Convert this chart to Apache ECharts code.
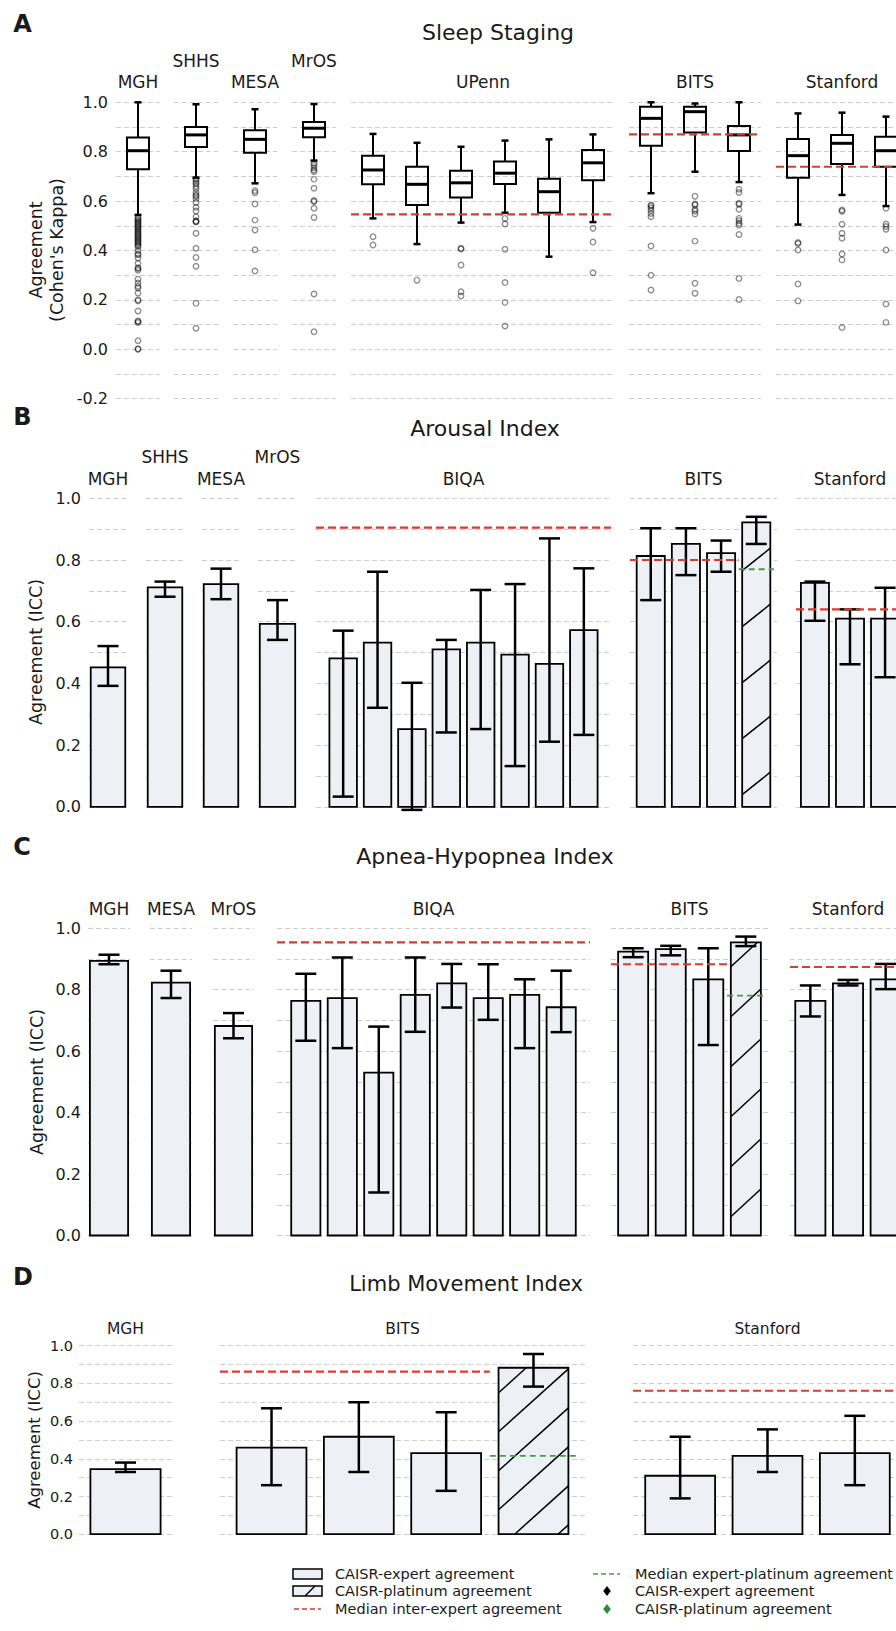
<!DOCTYPE html>
<html>
<head>
<meta charset="utf-8">
<script src="https://cdn.jsdelivr.net/npm/echarts@6/dist/echarts.min.js"></script>
<style>
html,body{margin:0;padding:0;overflow:hidden;background:#ffffff;}
#chart{width:1000px;height:1631px;}
</style>
</head>
<body>
<div id="chart"></div>
<script>
// ======================= DATA =======================
// ---- Panel A: Sleep Staging, Cohen's kappa boxplots ----
// each box: [lower whisker, Q1, median, Q3, upper whisker]
const sleepCohorts = ['MGH', 'SHHS', 'MESA', 'MrOS', 'UPenn', 'BITS', 'Stanford'];
const sleepBoxMGH = [[0.544, 0.729, 0.804, 0.857, 1.000]];
const sleepBoxSHHS = [[0.695, 0.819, 0.868, 0.900, 0.992]];
const sleepBoxMESA = [[0.672, 0.796, 0.850, 0.887, 0.972]];
const sleepBoxMrOS = [[0.764, 0.858, 0.895, 0.920, 0.993]];
const sleepBoxUPenn = [
  [0.530, 0.668, 0.726, 0.784, 0.872],
  [0.426, 0.584, 0.668, 0.739, 0.836],
  [0.513, 0.615, 0.674, 0.723, 0.820],
  [0.553, 0.669, 0.713, 0.760, 0.845],
  [0.375, 0.553, 0.638, 0.690, 0.850],
  [0.515, 0.684, 0.755, 0.807, 0.870]
];
const sleepBoxBITS = [
  [0.632, 0.824, 0.935, 0.982, 1.000],
  [0.719, 0.878, 0.962, 0.982, 0.995],
  [0.677, 0.803, 0.868, 0.904, 1.000]
];
const sleepBoxStanford = [
  [0.505, 0.695, 0.784, 0.851, 0.955],
  [0.625, 0.750, 0.834, 0.868, 0.958],
  [0.580, 0.739, 0.804, 0.861, 0.942]
];
// outliers, one list per box
const sleepOutMGH = [[0.535, 0.530, 0.525, 0.520, 0.515, 0.510, 0.505, 0.500, 0.495, 0.490, 0.485, 0.480,
  0.475, 0.470, 0.465, 0.460, 0.455, 0.450, 0.445, 0.440, 0.435, 0.430, 0.425, 0.420, 0.415, 0.400,
  0.386, 0.383, 0.370, 0.348, 0.330, 0.327, 0.320, 0.284, 0.268, 0.255, 0.248, 0.228, 0.200, 0.197,
  0.155, 0.115, 0.112, 0.108, 0.035, 0.002, 0.000]];
const sleepOutSHHS = [[0.690, 0.685, 0.675, 0.670, 0.660, 0.650, 0.635, 0.625, 0.620, 0.610, 0.594, 0.575,
  0.560, 0.537, 0.520, 0.517, 0.515, 0.470, 0.409, 0.372, 0.336, 0.186, 0.085]];
const sleepOutMESA = [[0.642, 0.634, 0.588, 0.523, 0.483, 0.403, 0.317]];
const sleepOutMrOS = [[0.753, 0.745, 0.735, 0.726, 0.720, 0.688, 0.652, 0.602, 0.598, 0.571, 0.534, 0.224, 0.071]];
const sleepOutUPenn = [
  [0.456, 0.422],
  [0.280],
  [0.409, 0.406, 0.341, 0.233, 0.216],
  [0.530, 0.507, 0.405, 0.270, 0.190, 0.094],
  [],
  [0.490, 0.434, 0.310]
];
const sleepOutBITS = [
  [0.584, 0.580, 0.572, 0.562, 0.550, 0.537, 0.418, 0.300, 0.240],
  [0.620, 0.588, 0.584, 0.567, 0.560, 0.548, 0.438, 0.267, 0.227],
  [0.648, 0.635, 0.591, 0.587, 0.567, 0.530, 0.520, 0.510, 0.503, 0.465, 0.287, 0.202]
];
const sleepOutStanford = [
  [0.432, 0.428, 0.402, 0.264, 0.196],
  [0.564, 0.559, 0.506, 0.470, 0.450, 0.386, 0.362, 0.088],
  [0.571, 0.507, 0.497, 0.486, 0.402, 0.183, 0.109]
];
const sleepInterExpert = { UPenn: 0.546, BITS: 0.870, Stanford: 0.739 };

// ---- Panel B: Arousal Index, ICC bars with 95% CI ----
const arousalCohorts = ['MGH', 'SHHS', 'MESA', 'MrOS', 'BIQA', 'BITS', 'Stanford'];
const arousalMGH = [0.452];           const arousalMGHCI = [[0.392, 0.521]];
const arousalSHHS = [0.711];          const arousalSHHSCI = [[0.681, 0.730]];
const arousalMESA = [0.722];          const arousalMESACI = [[0.673, 0.772]];
const arousalMrOS = [0.593];          const arousalMrOSCI = [[0.541, 0.670]];
const arousalBIQA = [0.481, 0.532, 0.252, 0.510, 0.532, 0.493, 0.463, 0.573];
const arousalBIQACI = [[0.033, 0.571], [0.321, 0.762], [-0.010, 0.402], [0.241, 0.541],
                       [0.252, 0.703], [0.132, 0.722], [0.211, 0.870], [0.233, 0.773]];
const arousalBITS = [0.813, 0.852, 0.822, 0.922];
const arousalBITSCI = [[0.670, 0.903], [0.751, 0.903], [0.762, 0.863], [0.852, 0.940]];
const arousalStanford = [0.726, 0.610, 0.610];
const arousalStanfordCI = [[0.603, 0.730], [0.462, 0.640], [0.420, 0.710]];
const arousalInterExpert = { BIQA: 0.905, BITS: 0.800, Stanford: 0.640 };
const arousalExpertPlatinum = { BITS: 0.770 };

// ---- Panel C: Apnea-Hypopnea Index ----
const ahiCohorts = ['MGH', 'MESA', 'MrOS', 'BIQA', 'BITS', 'Stanford'];
const ahiMGH = [0.894];               const ahiMGHCI = [[0.883, 0.914]];
const ahiMESA = [0.823];              const ahiMESACI = [[0.773, 0.862]];
const ahiMrOS = [0.682];              const ahiMrOSCI = [[0.642, 0.724]];
const ahiBIQA = [0.764, 0.773, 0.530, 0.783, 0.821, 0.773, 0.783, 0.743];
const ahiBIQACI = [[0.634, 0.852], [0.610, 0.905], [0.140, 0.680], [0.663, 0.905],
                   [0.742, 0.884], [0.702, 0.883], [0.610, 0.834], [0.662, 0.862]];
const ahiBITS = [0.924, 0.932, 0.834, 0.954];
const ahiBITSCI = [[0.906, 0.935], [0.912, 0.943], [0.620, 0.935], [0.942, 0.973]];
const ahiStanford = [0.764, 0.821, 0.834];
const ahiStanfordCI = [[0.713, 0.814], [0.814, 0.832], [0.802, 0.884]];
const ahiInterExpert = { BIQA: 0.954, BITS: 0.883, Stanford: 0.874 };
const ahiExpertPlatinum = { BITS: 0.781 };

// ---- Panel D: Limb Movement Index ----
const limbCohorts = ['MGH', 'BITS', 'Stanford'];
const limbMGH = [0.345];              const limbMGHCI = [[0.330, 0.380]];
const limbBITS = [0.459, 0.517, 0.430, 0.883];
const limbBITSCI = [[0.260, 0.668], [0.330, 0.700], [0.230, 0.647], [0.783, 0.956]];
const limbStanford = [0.310, 0.415, 0.430];
const limbStanfordCI = [[0.190, 0.517], [0.330, 0.556], [0.260, 0.628]];
const limbInterExpert = { BITS: 0.862, Stanford: 0.761 };
const limbExpertPlatinum = { BITS: 0.415 };

// which bar in a cohort is the CAISR-platinum comparison
const platinumIndex = { BITS: 3 };

// texts
const panelTitles = ['Sleep Staging', 'Arousal Index', 'Apnea-Hypopnea Index', 'Limb Movement Index'];
const panelLetters = ['A', 'B', 'C', 'D'];
const yTitles = ['Agreement\n(Cohen\'s Kappa)', 'Agreement (ICC)', 'Agreement (ICC)', 'Agreement (ICC)'];
const legendLeftTexts = ['CAISR-expert agreement', 'CAISR-platinum agreement', 'Median inter-expert agreement'];
const legendRightTexts = ['Median expert-platinum agreement', 'CAISR-expert agreement', 'CAISR-platinum agreement'];

// ======================= STYLE / LAYOUT =======================
const FONT = 'DejaVu Sans';
const INK = '#1a1a1a';
const RED = '#de3a2f';
const GREEN = '#4a9a48';
const BAR_FILL = '#edf1f6';
const GRID_COLOR = '#cdcdcd';

const PA = { top: 102.3, bottom: 398.7, ymin: -0.2, ymax: 1.0, tick: 16, margin: 8, label: 17 };
const PB = { top: 498.3, bottom: 806.8, ymin: 0, ymax: 1.0, tick: 16, margin: 8, label: 17 };
const PC = { top: 928.3, bottom: 1235.5, ymin: 0, ymax: 1.0, tick: 16, margin: 7, label: 17 };
const PD = { top: 1345.7, bottom: 1534.2, ymin: 0, ymax: 1.0, tick: 14.5, margin: 6, label: 15.5 };

const xA = [[116, 160], [174, 218], [233, 277], [292, 336], [351, 615], [629, 761], [776, 908]];
const lyA = [82, 61, 82, 61, 82, 82, 82];
const xB = [[89, 127], [146, 184], [202, 240], [258, 297], [316, 611], [630, 777], [796, 904]];
const lyB = [479, 457, 479, 457, 479, 479, 479];
const xC = [[88, 130], [150, 192], [213, 254], [277, 590], [611, 768], [790, 906]];
const lyC = [909, 909, 909, 909, 909, 909];
const xD = [[79, 172], [220, 585], [633, 902]];
const lyD = [1328.5, 1328.5, 1328.5];

const hatchB = { spacing: 56, slope: 0.8, phase: 570.7 };
const hatchC = { spacing: 50, slope: 0.92, phase: 1016.7 };
const hatchD = { spacing: 39, slope: 0.9, phase: 1431.7 };

// ======================= BUILD =======================
const grids = [], xAxes = [], yAxes = [], series = [], graphics = [];

function txt(text, x, y, size, o) {
  o = o || {};
  const el = {
    type: 'text', x: x, y: y, silent: true, z: 100,
    style: {
      text: text, fill: INK, fontSize: size, fontFamily: FONT,
      fontWeight: o.bold ? 'bold' : 'normal',
      align: o.align || 'center', textAlign: o.align || 'center',
      verticalAlign: 'middle', textVerticalAlign: 'middle'
    }
  };
  if (o.lh) el.style.lineHeight = o.lh;
  if (o.rot) el.rotation = o.rot;
  return el;
}

function addAxes(P, x0, x1, xmin, xmax, showLabels) {
  const idx = grids.length;
  grids.push({ left: x0, top: P.top, width: x1 - x0, height: P.bottom - P.top, containLabel: false });
  xAxes.push({ type: 'value', gridIndex: idx, min: xmin, max: xmax, show: false });
  yAxes.push({
    type: 'value', gridIndex: idx, min: P.ymin, max: P.ymax, interval: 0.1,
    axisLine: { show: false }, axisTick: { show: false },
    axisLabel: {
      show: showLabels, margin: P.margin, fontFamily: FONT, fontSize: P.tick, color: INK,
      formatter: function (v) { const t = Math.round(v * 10); return (t % 2 === 0) ? (t / 10).toFixed(1) : ''; }
    },
    splitLine: { show: true, lineStyle: { color: GRID_COLOR, type: [5, 3], width: 1 } }
  });
  return idx;
}

function refLine(gi, a, b, v, color, width, dash) {
  return {
    type: 'line', xAxisIndex: gi, yAxisIndex: gi, data: [[a, v], [b, v]],
    symbol: 'none', showSymbol: false, silent: true, z: 6, animation: false,
    lineStyle: { color: color, width: width, type: dash }
  };
}

function boxRender(params, api) {
  const x = api.value(0);
  const pLo = api.coord([x, api.value(1)]);
  const pQ1 = api.coord([x, api.value(2)]);
  const pMed = api.coord([x, api.value(3)]);
  const pQ3 = api.coord([x, api.value(4)]);
  const pHi = api.coord([x, api.value(5)]);
  const w = api.size([0.5, 0])[0];
  const cx = pQ1[0];
  const ls = { stroke: '#000', lineWidth: 2 };
  const cs = { stroke: '#000', lineWidth: 2.5 };
  return {
    type: 'group', children: [
      { type: 'line', shape: { x1: cx, y1: pQ1[1], x2: cx, y2: pLo[1] }, style: ls },
      { type: 'line', shape: { x1: cx, y1: pQ3[1], x2: cx, y2: pHi[1] }, style: ls },
      { type: 'line', shape: { x1: cx - 3.5, y1: pLo[1], x2: cx + 3.5, y2: pLo[1] }, style: cs },
      { type: 'line', shape: { x1: cx - 3.5, y1: pHi[1], x2: cx + 3.5, y2: pHi[1] }, style: cs },
      { type: 'rect', shape: { x: cx - w / 2, y: pQ3[1], width: w, height: pQ1[1] - pQ3[1] },
        style: { fill: 'rgba(255,255,255,0)', stroke: '#000', lineWidth: 2 } },
      { type: 'line', shape: { x1: cx - w / 2, y1: pMed[1], x2: cx + w / 2, y2: pMed[1] },
        style: { stroke: '#000', lineWidth: 3 } }
    ]
  };
}

function makeBarRender(H) {
  return function (params, api) {
    const x = api.value(0), v = api.value(1), lo = api.value(2), hi = api.value(3), hatch = api.value(4);
    const pTop = api.coord([x, v]);
    const pBase = api.coord([x, 0]);
    const w = api.size([0.8, 0])[0];
    const cx = pTop[0];
    const x0 = cx - w / 2, x1 = cx + w / 2, yt = pTop[1], yb = pBase[1];
    const ch = [{
      type: 'rect', shape: { x: x0, y: yt, width: w, height: yb - yt },
      style: { fill: BAR_FILL, stroke: '#000', lineWidth: 1.8 }
    }];
    if (hatch) {
      const s = H.slope;
      const base = H.phase + s * x0;
      const cMin = yt + s * x0, cMax = yb + s * x1;
      let k = Math.ceil((cMin - base) / H.spacing);
      for (let C = base + k * H.spacing; C <= cMax; C += H.spacing) {
        const xa = Math.max(x0, (C - yb) / s), xb = Math.min(x1, (C - yt) / s);
        if (xb - xa > 0.5) {
          ch.push({ type: 'line', shape: { x1: xa, y1: C - s * xa, x2: xb, y2: C - s * xb },
            style: { stroke: '#000', lineWidth: 1.5 } });
        }
      }
    }
    const pLo = api.coord([x, lo]), pHi = api.coord([x, hi]);
    const es = { stroke: '#000', lineWidth: 2.5 };
    ch.push({ type: 'line', shape: { x1: cx, y1: pLo[1], x2: cx, y2: pHi[1] }, style: es });
    ch.push({ type: 'line', shape: { x1: cx - 10.5, y1: pLo[1], x2: cx + 10.5, y2: pLo[1] }, style: es });
    ch.push({ type: 'line', shape: { x1: cx - 10.5, y1: pHi[1], x2: cx + 10.5, y2: pHi[1] }, style: es });
    return { type: 'group', children: ch };
  };
}

function barLimits(n) { const m = 0.05 * (n - 0.2); return [-0.4 - m, n - 0.6 + m]; }

function buildBoxPanel(P, xs, lys, cohorts, boxes, outs, refs) {
  cohorts.forEach(function (name, i) {
    const n = boxes[i].length;
    const gi = addAxes(P, xs[i][0], xs[i][1], 0.5, n + 0.5, i === 0);
    series.push({
      type: 'custom', xAxisIndex: gi, yAxisIndex: gi, renderItem: boxRender, silent: true, z: 3,
      data: boxes[i].map(function (b, k) { return [k + 1].concat(b); }),
      encode: { x: 0, y: [1, 2, 3, 4, 5] }
    });
    const od = [];
    outs[i].forEach(function (arr, k) { arr.forEach(function (v) { od.push([k + 1, v]); }); });
    series.push({
      type: 'scatter', xAxisIndex: gi, yAxisIndex: gi, data: od, symbol: 'circle', symbolSize: 5.5,
      silent: true, z: 4,
      itemStyle: { color: 'rgba(255,255,255,0)', borderColor: 'rgba(0,0,0,0.55)', borderWidth: 1.4 }
    });
    if (refs[name] != null) series.push(refLine(gi, 0.5, n + 0.5, refs[name], RED, 2.2, [8, 4]));
    graphics.push(txt(name, (xs[i][0] + xs[i][1]) / 2, lys[i], P.label));
  });
}

function buildBarPanel(P, xs, lys, cohorts, vals, cis, inter, plat, H, limOverride) {
  cohorts.forEach(function (name, i) {
    const n = vals[i].length;
    const lim = (limOverride && limOverride[name]) ? limOverride[name] : barLimits(n);
    const gi = addAxes(P, xs[i][0], xs[i][1], lim[0], lim[1], i === 0);
    const pIdx = platinumIndex[name];
    series.push({
      type: 'custom', xAxisIndex: gi, yAxisIndex: gi, renderItem: makeBarRender(H), silent: true, z: 3,
      data: vals[i].map(function (v, k) { return [k, v, cis[i][k][0], cis[i][k][1], k === pIdx ? 1 : 0]; }),
      encode: { x: 0, y: [1, 2, 3] }
    });
    if (inter[name] != null) {
      const endX = (pIdx != null && plat[name] != null) ? pIdx - 0.5 : lim[1];
      series.push(refLine(gi, lim[0], endX, inter[name], RED, 2.2, [8, 4]));
    }
    if (plat && plat[name] != null && pIdx != null) {
      series.push(refLine(gi, pIdx - 0.5, pIdx + 0.5, plat[name], GREEN, 1.8, [6, 4]));
    }
    graphics.push(txt(name, (xs[i][0] + xs[i][1]) / 2, lys[i], P.label));
  });
}

buildBoxPanel(PA, xA, lyA, sleepCohorts,
  [sleepBoxMGH, sleepBoxSHHS, sleepBoxMESA, sleepBoxMrOS, sleepBoxUPenn, sleepBoxBITS, sleepBoxStanford],
  [sleepOutMGH, sleepOutSHHS, sleepOutMESA, sleepOutMrOS, sleepOutUPenn, sleepOutBITS, sleepOutStanford],
  sleepInterExpert);

buildBarPanel(PB, xB, lyB, arousalCohorts,
  [arousalMGH, arousalSHHS, arousalMESA, arousalMrOS, arousalBIQA, arousalBITS, arousalStanford],
  [arousalMGHCI, arousalSHHSCI, arousalMESACI, arousalMrOSCI, arousalBIQACI, arousalBITSCI, arousalStanfordCI],
  arousalInterExpert, arousalExpertPlatinum, hatchB);

buildBarPanel(PC, xC, lyC, ahiCohorts,
  [ahiMGH, ahiMESA, ahiMrOS, ahiBIQA, ahiBITS, ahiStanford],
  [ahiMGHCI, ahiMESACI, ahiMrOSCI, ahiBIQACI, ahiBITSCI, ahiStanfordCI],
  ahiInterExpert, ahiExpertPlatinum, hatchC);

buildBarPanel(PD, xD, lyD, limbCohorts,
  [limbMGH, limbBITS, limbStanford],
  [limbMGHCI, limbBITSCI, limbStanfordCI],
  limbInterExpert, limbExpertPlatinum, hatchD, { MGH: [-0.53, 0.53] });

// panel letters, titles, y titles
const letterPos = [[22.5, 23.5], [22.5, 416.5], [22, 846.5], [23, 1277]];
const titlePos = [[498, 32, 22], [485, 428, 22], [485, 856, 22], [466, 1284, 21]];
const yTitlePos = [[46.5, 250, 17.5], [36, 652, 17.5], [37, 1082, 17.5], [34, 1440, 16.5]];
panelLetters.forEach(function (L, i) {
  graphics.push(txt(L, letterPos[i][0], letterPos[i][1], 24, { bold: true }));
  graphics.push(txt(panelTitles[i], titlePos[i][0], titlePos[i][1], titlePos[i][2]));
  graphics.push(txt(yTitles[i], yTitlePos[i][0], yTitlePos[i][1], yTitlePos[i][2], { rot: Math.PI / 2, lh: 21 }));
});

// legend
const legRows = [1574, 1591, 1609];
const legFont = 14.5;
// left column
graphics.push({ type: 'rect', shape: { x: 293, y: legRows[0] - 5, width: 29, height: 10 }, silent: true,
  style: { fill: BAR_FILL, stroke: '#000', lineWidth: 1.5 } });
graphics.push({ type: 'rect', shape: { x: 293, y: legRows[1] - 5, width: 29, height: 10 }, silent: true,
  style: { fill: BAR_FILL, stroke: '#000', lineWidth: 1.5 } });
graphics.push({ type: 'line', shape: { x1: 305, y1: legRows[1] + 5, x2: 315, y2: legRows[1] - 5 }, silent: true,
  style: { stroke: '#000', lineWidth: 1.5 } });
graphics.push({ type: 'line', shape: { x1: 294, y1: legRows[2], x2: 321, y2: legRows[2] }, silent: true,
  style: { stroke: RED, lineWidth: 1.5, lineDash: [5, 3] } });
legendLeftTexts.forEach(function (t, i) { graphics.push(txt(t, 335, legRows[i], legFont, { align: 'left' })); });
// right column
graphics.push({ type: 'line', shape: { x1: 593, y1: legRows[0], x2: 620, y2: legRows[0] }, silent: true,
  style: { stroke: GREEN, lineWidth: 1.5, lineDash: [5, 3] } });
function diamond(cx, cy, color) {
  return { type: 'polygon', silent: true, shape: { points: [[cx, cy - 5], [cx + 3.8, cy], [cx, cy + 5], [cx - 3.8, cy]] },
    style: { fill: color } };
}
graphics.push(diamond(607, legRows[1], '#000'));
graphics.push(diamond(607, legRows[2], '#2f8a3a'));
legendRightTexts.forEach(function (t, i) { graphics.push(txt(t, 635, legRows[i], legFont, { align: 'left' })); });

const chart = echarts.init(document.getElementById('chart'), null, { renderer: 'svg' });
chart.setOption({
  animation: false,
  backgroundColor: '#ffffff',
  grid: grids,
  xAxis: xAxes,
  yAxis: yAxes,
  series: series,
  graphic: { elements: graphics }
});
</script>
</body>
</html>
